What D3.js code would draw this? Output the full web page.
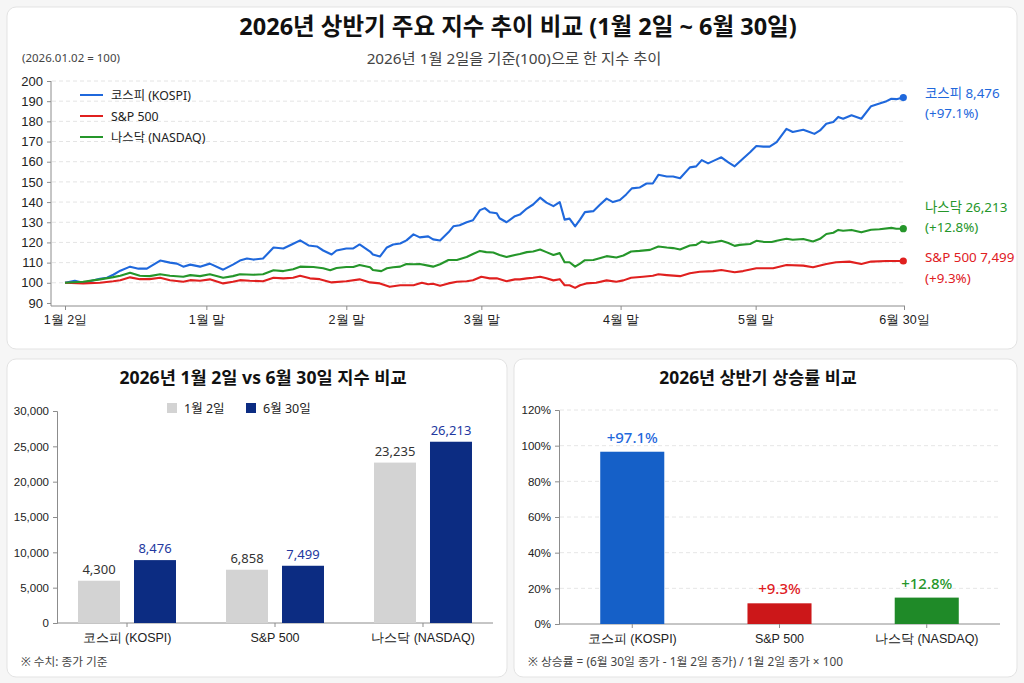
<!DOCTYPE html>
<html>
<head>
<meta charset="utf-8">
<script src="https://cdn.jsdelivr.net/npm/d3@7"></script>
<style>
  body { margin: 0; background: #f6f6f6; }
  svg { display: block; font-family: "Noto Sans", "Noto Sans CJK KR", sans-serif; }
  .axis path, .axis line { stroke: #8c8c8c; }
  .axis text { fill: #222; }
</style>
</head>
<body>
<svg id="chart" width="1024" height="683"></svg>
<script>
// ---- data ----
const seriesNames = ['코스피 (KOSPI)', 'S&P 500', '나스닥 (NASDAQ)'];
const seriesColors = ['#1f68dc', '#e0201f', '#25962a'];

// [trading day index, index value (2026.01.02 = 100)]
const kospi = [[0,100],[1.4,101],[2.6,100],[3.8,101],[5,102],[6,102.5],[6.9,104],[7.9,106],[9.3,108],[10.5,107],[11.7,107],[13.6,111],[15,110],[16,109.5],[16.9,108],[17.9,109],[19.3,108],[20.7,109.5],[22.6,106.5],[24,109],[25,111],[26,112],[26.9,111.5],[28.3,112],[29.8,117.5],[31.2,117],[32.4,119],[33.6,121],[34.8,118.5],[36,118],[36.9,116],[38.1,114],[38.8,116],[40.2,117],[41.2,117],[42.1,119],[43.6,115.5],[44,114],[45,113],[46,117.5],[46.9,119],[47.9,119.5],[48.8,121],[49.8,124],[50.7,122.5],[51.9,123],[52.6,121.5],[53.6,121],[54.8,125],[55.5,128],[56.4,128.5],[57.4,130],[58.3,131],[59.3,136],[60,137],[60.7,135],[61.7,134.5],[62.1,132],[63.1,130],[64.3,133],[65,133.8],[66,136.8],[66.9,138.8],[67.9,142.2],[68.8,139.7],[69.8,138],[70.7,140],[71.4,131.3],[72.1,131.8],[72.9,128],[73.6,131.3],[74.3,135],[75.5,135.5],[76.4,138.5],[77.4,141.7],[78.3,140],[79.3,141],[80.2,143.8],[81,146.8],[82.1,147.2],[83.1,149.2],[84,149.2],[84.8,153.5],[86,152.7],[86.9,152.7],[87.9,151.8],[89.3,157.2],[90.2,157.7],[91,160.8],[91.9,159.2],[92.9,160.8],[93.8,162.2],[94.8,159.7],[95.7,157.7],[96.4,160],[97.9,164.7],[98.8,167.8],[99.8,167.5],[100.7,167.5],[101.7,169.7],[103.1,176.3],[104,174.7],[105.5,175.8],[106.4,174.7],[107.1,173.8],[107.9,175.5],[108.8,178.8],[109.8,179.7],[110.5,182.2],[111.2,181.3],[112.4,183],[113.8,181.3],[115.2,187.5],[116.4,188.8],[117.4,190],[118.1,191.2],[118.8,191],[119.8,191.8]];
const sp500 = [[0,100],[2.6,99.7],[5,100],[6.9,100.8],[7.9,101.3],[9.3,102.7],[10.7,101.8],[12.1,101.8],[13.6,102.5],[15,101.3],[16.9,100.5],[17.9,101.3],[19.3,101],[20.7,101.7],[22.6,99.7],[24,100.5],[25,101.3],[26.4,101],[28.3,100.8],[29.8,102.5],[31.2,102.2],[32.6,102.5],[33.6,103.5],[35,102.2],[36.4,101.8],[38.1,100.2],[40.2,100.8],[42.1,101.7],[43.6,100.2],[45,99.7],[46.4,98],[47.9,98.8],[49.8,98.8],[51,100],[51.9,99.3],[52.6,99.5],[53.6,98.5],[54.8,99.7],[56,100.5],[57.4,100.8],[58.3,101.3],[59.5,103],[60.7,102.2],[61.7,102.2],[63.1,100.8],[64.3,101.7],[65,101.7],[66,102.2],[66.9,102.5],[67.9,103],[68.8,102.2],[69.8,101.2],[70.7,101.8],[71.4,98.8],[72.1,98.8],[72.9,97.5],[73.6,98.8],[74.5,99.7],[75.9,100],[77.4,101.2],[78.8,100.5],[79.8,101.2],[80.9,102.5],[82.6,103],[84,103.5],[84.8,104.2],[86,103.8],[87.9,103.3],[89.3,104.7],[90.7,105.5],[92.6,105.8],[93.8,106.3],[95.7,105.2],[96.9,105.8],[98.8,107.2],[101.2,107.2],[103.1,108.8],[105.5,108.5],[106.9,107.7],[108.8,109.3],[110.2,110.2],[112.1,110.5],[113.8,109.3],[115.2,110.5],[117.4,110.8],[119.8,110.8]];
const nasdaq = [[0,100],[2.6,100.5],[5,101.7],[6.9,102.8],[7.9,103.5],[9.3,105],[10.7,103.5],[12.1,103.3],[13.6,104.2],[15,103.5],[16.9,103],[17.9,103.8],[19.3,103.3],[20.7,104.2],[22.6,102.5],[24,103.3],[25,104.2],[26.9,104],[28.3,104.2],[29.8,106.2],[31.2,105.8],[32.6,106.7],[33.6,108],[35.5,107.8],[36.9,107.2],[37.9,106.2],[38.8,107.3],[40.2,107.8],[41.2,107.8],[42.1,108.8],[43.6,107.7],[44,106.3],[45.2,105.8],[46,107.2],[46.9,107.7],[47.9,108],[48.8,109.3],[49.8,109.2],[50.7,109.3],[51.9,108.5],[52.6,108],[53.6,109.2],[54.8,111.3],[56,111.3],[57.4,112.8],[58.3,114.3],[59.3,115.8],[60.2,115.2],[61.2,115],[62.1,113.8],[63.1,112.8],[64.3,113.8],[65,114.3],[66,115.2],[66.9,115.5],[67.9,116.5],[68.8,115.2],[69.8,113.8],[70.7,114.7],[71.4,110.2],[72.1,110.2],[72.9,108],[73.6,109.5],[74.3,111.2],[75.5,111.3],[76.4,112.2],[77.4,113.2],[78.8,112.5],[79.8,113.5],[80.9,115.5],[82.1,115.8],[83.6,116.3],[84.8,118],[86,117.5],[86.9,117.2],[87.9,116.5],[89.3,118.5],[90.2,118.8],[91,120.5],[91.9,119.8],[92.9,120.2],[93.8,120.8],[94.8,119.7],[95.7,118.3],[96.4,118.8],[97.9,119.2],[98.8,120.8],[99.8,120.3],[101,120.2],[101.7,120.8],[103.1,121.8],[104,121.3],[105.5,121.7],[106.9,120.5],[107.9,121.8],[108.8,124.2],[109.8,124.8],[110.5,126.2],[111.2,125.8],[112.4,126.2],[113.8,125],[115.2,126.3],[116.4,126.5],[118.1,127.2],[118.8,126.8],[119.8,126.8]];
const lineSeries = [kospi, sp500, nasdaq];

const xTickDays = [0, 20.2, 40.2, 59.5, 79.4, 98.7, 119.9];
const xTickLabels = ['1월 2일', '1월 말', '2월 말', '3월 말', '4월 말', '5월 말', '6월 30일'];
const endLabelTexts = [['코스피 8,476', '(+97.1%)'], ['S&P 500 7,499', '(+9.3%)'], ['나스닥 26,213', '(+12.8%)']];

// bar chart: bar heights as drawn, and their printed labels
const barCategories = ['코스피 (KOSPI)', 'S&P 500', '나스닥 (NASDAQ)'];
const barKeys = ['1월 2일', '6월 30일'];
const janValues = [5980, 7540, 22700];
const junValues = [8900, 8100, 25650];
const janLabels = ['4,300', '6,858', '23,235'];
const junLabels = ['8,476', '7,499', '26,213'];

const gainValues = [96.6, 11.6, 14.8];
const gainLabels = ['+97.1%', '+9.3%', '+12.8%'];
const gainColors = ['#1560c8', '#cc1719', '#1f8a28'];
const gainLabelColors = ['#1f68dc', '#e0201f', '#25962a'];

const svg = d3.select('#chart');

// ---- cards ----
function card(x, y, w, h) {
    svg.append('rect').attr('x', x).attr('y', y).attr('width', w).attr('height', h)
        .attr('rx', 9).attr('fill', '#fff').attr('stroke', '#e3e3e3');
}
card(7, 7, 1010, 342);
card(7, 359, 500, 318);
card(514, 359, 503, 318);

// ---- top line chart ----
svg.append('text').attr('x', 518).attr('y', 35).attr('text-anchor', 'middle')
    .attr('font-size', 23.5).attr('font-weight', 700).attr('fill', '#111')
    .text('2026년 상반기 주요 지수 추이 비교 (1월 2일 ~ 6월 30일)');
svg.append('text').attr('x', 514).attr('y', 64).attr('text-anchor', 'middle')
    .attr('font-size', 15.3).attr('fill', '#444')
    .text('2026년 1월 2일을 기준(100)으로 한 지수 추이');
svg.append('text').attr('x', 22).attr('y', 62)
    .attr('font-size', 11.5).attr('fill', '#444').text('(2026.01.02 = 100)');

const xLine = d3.scaleLinear().domain([0, 119.9]).range([65, 904]);
const yLine = d3.scaleLinear().domain([88.5, 200]).range([306, 81]);
const yTicks = d3.range(90, 201, 10);

svg.append('g').selectAll('line').data(yTicks.filter(d => d > 90)).join('line')
    .attr('x1', 52).attr('x2', 904)
    .attr('y1', d => yLine(d)).attr('y2', d => yLine(d))
    .attr('stroke', '#e4e4e4').attr('stroke-dasharray', '4,3');

svg.append('g').attr('class', 'axis')
    .attr('transform', 'translate(51,0)')
    .call(d3.axisLeft(yLine).tickValues(yTicks).tickSize(4).tickPadding(4))
    .call(g => g.select('.domain').attr('d', 'M0,81V306'))
    .selectAll('text').attr('font-size', 13);

svg.append('g').attr('class', 'axis')
    .attr('transform', 'translate(0,306)')
    .call(d3.axisBottom(xLine).tickValues(xTickDays).tickFormat((d, i) => xTickLabels[i]).tickSize(4).tickPadding(5))
    .call(g => g.select('.domain').attr('d', 'M51,0H905'))
    .selectAll('text').attr('font-size', 12.5).attr('font-weight', 500);

const line = d3.line().x(d => xLine(d[0])).y(d => yLine(d[1]));
svg.append('g').selectAll('path').data(lineSeries).join('path')
    .attr('d', line).attr('fill', 'none')
    .attr('stroke', (d, i) => seriesColors[i]).attr('stroke-width', 2.1)
    .attr('stroke-linejoin', 'round');

svg.append('g').selectAll('circle').data(lineSeries).join('circle')
    .attr('cx', d => xLine(d[d.length - 1][0])).attr('cy', d => yLine(d[d.length - 1][1]))
    .attr('r', 3.6).attr('fill', (d, i) => seriesColors[i]);

// end labels, nudged apart
const endNudge = [0, 1, -17];
const endG = svg.append('g').selectAll('text').data(lineSeries).join('text')
    .attr('x', 925)
    .attr('y', (d, i) => yLine(d[d.length - 1][1]) + endNudge[i])
    .attr('font-size', 13.4).attr('fill', (d, i) => seriesColors[i]);
endG.selectAll('tspan').data((d, i) => endLabelTexts[i]).join('tspan')
    .attr('x', 925).attr('dy', (d, j) => j === 0 ? 0 : 20.5).text(d => d);

const legend = svg.append('g').selectAll('g').data(seriesNames).join('g')
    .attr('transform', (d, i) => 'translate(80,' + (95 + i * 21) + ')');
legend.append('line').attr('x1', 0).attr('x2', 23)
    .attr('stroke', (d, i) => seriesColors[i]).attr('stroke-width', 2);
legend.append('text').attr('x', 31).attr('y', 4.5).attr('font-size', 12.3)
    .attr('fill', '#222').text(d => d);

// ---- bottom left: grouped bars ----
svg.append('text').attr('x', 263).attr('y', 384).attr('text-anchor', 'middle')
    .attr('font-size', 17.6).attr('font-weight', 700).attr('fill', '#111')
    .text('2026년 1월 2일 vs 6월 30일 지수 비교');

const barColors = ['#d3d3d3', '#0c2c82'];
const barLabelColors = ['#333', '#2338a0'];
const x0 = d3.scaleBand().domain(barCategories).range([57, 493]).paddingInner(0.338).paddingOuter(0.142);
const x1 = d3.scaleBand().domain(barKeys).range([0, x0.bandwidth()]).paddingInner(0.25);
const yBar = d3.scaleLinear().domain([0, 30000]).range([623, 411]);

svg.append('g').attr('class', 'axis').attr('transform', 'translate(57,0)')
    .call(d3.axisLeft(yBar).tickValues(d3.range(0, 30001, 5000)).tickFormat(d3.format(',')).tickSize(4).tickPadding(4))
    .selectAll('text').attr('font-size', 11.5);
svg.append('g').attr('class', 'axis').attr('transform', 'translate(0,623)')
    .call(d3.axisBottom(x0).tickSize(4).tickPadding(6))
    .call(g => g.select('.domain').attr('d', 'M57,0H493'))
    .selectAll('text').attr('font-size', 12.5);

const groups = barCategories.map((c, i) => ({
    cat: c,
    vals: [{ key: barKeys[0], v: janValues[i], label: janLabels[i] },
           { key: barKeys[1], v: junValues[i], label: junLabels[i] }]
}));
const grp = svg.append('g').selectAll('g').data(groups).join('g')
    .attr('transform', d => 'translate(' + x0(d.cat) + ',0)');
grp.selectAll('rect').data(d => d.vals).join('rect')
    .attr('x', d => x1(d.key)).attr('width', x1.bandwidth())
    .attr('y', d => yBar(d.v)).attr('height', d => yBar(0) - yBar(d.v))
    .attr('fill', (d, i) => barColors[i]);
grp.selectAll('text').data(d => d.vals).join('text')
    .attr('x', d => x1(d.key) + x1.bandwidth() / 2).attr('y', d => yBar(d.v) - 7)
    .attr('text-anchor', 'middle').attr('font-size', 13)
    .attr('fill', (d, i) => barLabelColors[i]).text(d => d.label);

const barLegend = svg.append('g').selectAll('g').data(barKeys).join('g')
    .attr('transform', (d, i) => 'translate(' + (167 + i * 79) + ',403)');
barLegend.append('rect').attr('width', 10).attr('height', 10).attr('fill', (d, i) => barColors[i]);
barLegend.append('text').attr('x', 17).attr('y', 9.5).attr('font-size', 12.5).attr('fill', '#222').text(d => d);

svg.append('text').attr('x', 21).attr('y', 666).attr('font-size', 11.7).attr('fill', '#444')
    .text('※ 수치: 종가 기준');

// ---- bottom right: gain bars ----
svg.append('text').attr('x', 758).attr('y', 384).attr('text-anchor', 'middle')
    .attr('font-size', 17.4).attr('font-weight', 700).attr('fill', '#111')
    .text('2026년 상반기 상승률 비교');

const xGain = d3.scaleBand().domain(barCategories).range([559, 1000]).paddingInner(0.565).paddingOuter(0.28);
const yGain = d3.scaleLinear().domain([0, 120]).range([624, 410]);
const gainTicks = d3.range(0, 121, 20);

svg.append('g').selectAll('line').data(gainTicks.filter(d => d > 0)).join('line')
    .attr('x1', 560).attr('x2', 1000)
    .attr('y1', d => yGain(d)).attr('y2', d => yGain(d))
    .attr('stroke', '#e6e6e6').attr('stroke-dasharray', '4,3');

svg.append('g').attr('class', 'axis').attr('transform', 'translate(559,0)')
    .call(d3.axisLeft(yGain).tickValues(gainTicks).tickFormat(d => d + '%').tickSize(4).tickPadding(4))
    .selectAll('text').attr('font-size', 11.5);
svg.append('g').attr('class', 'axis').attr('transform', 'translate(0,624)')
    .call(d3.axisBottom(xGain).tickSize(4).tickPadding(6))
    .call(g => g.select('.domain').attr('d', 'M559,0H1000'))
    .selectAll('text').attr('font-size', 12.5);

svg.append('g').selectAll('rect').data(gainValues).join('rect')
    .attr('x', (d, i) => xGain(barCategories[i])).attr('width', xGain.bandwidth())
    .attr('y', d => yGain(d)).attr('height', d => yGain(0) - yGain(d))
    .attr('fill', (d, i) => gainColors[i]);
svg.append('g').selectAll('text').data(gainValues).join('text')
    .attr('x', (d, i) => xGain(barCategories[i]) + xGain.bandwidth() / 2)
    .attr('y', d => yGain(d) - 9)
    .attr('text-anchor', 'middle').attr('font-size', 15).attr('font-weight', 500)
    .attr('fill', (d, i) => gainLabelColors[i]).text((d, i) => gainLabels[i]);

svg.append('text').attr('x', 528).attr('y', 666).attr('font-size', 11.8).attr('fill', '#444')
    .text('※ 상승률 = (6월 30일 종가 - 1월 2일 종가) / 1월 2일 종가 × 100');
</script>
</body>
</html>
